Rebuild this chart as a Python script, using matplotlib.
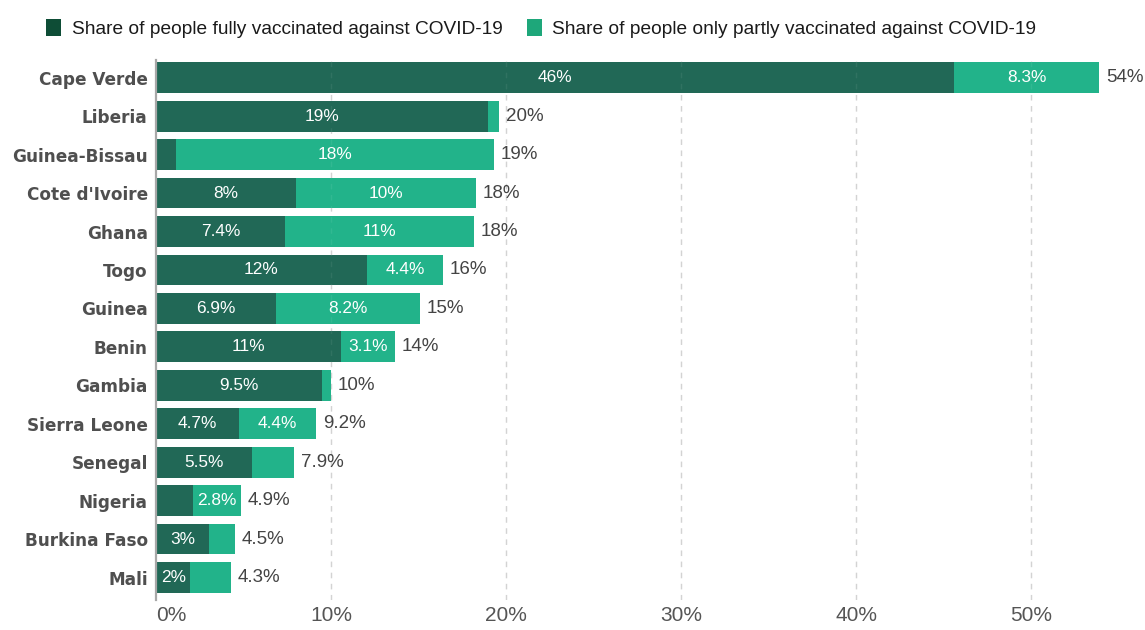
import matplotlib
matplotlib.use("Agg")
import matplotlib.pyplot as plt
from matplotlib.patches import Patch

# Share of population vaccinated against COVID-19 (%), West Africa
countries = ["Cape Verde", "Liberia", "Guinea-Bissau", "Cote d'Ivoire", "Ghana",
             "Togo", "Guinea", "Benin", "Gambia", "Sierra Leone", "Senegal",
             "Nigeria", "Burkina Faso", "Mali"]
fully = [45.6, 18.98, 1.14, 7.98, 7.36, 12.04, 6.88, 10.57, 9.47, 4.74, 5.46,
         2.10, 3.02, 1.97]
partly = [8.3, 0.62, 18.2, 10.29, 10.81, 4.36, 8.21, 3.07, 0.55, 4.43, 2.42,
          2.78, 1.50, 2.30]
x_ticks = [0, 10, 20, 30, 40, 50]

series_names = ["Share of people fully vaccinated against COVID-19",
                "Share of people only partly vaccinated against COVID-19"]

FULL_BAR = "#216856"
PART_BAR = "#22b38a"
FULL_KEY = "#0e4d36"
PART_KEY = "#1ea77a"

plt.rcParams["font.family"] = ["Liberation Sans", "DejaVu Sans"]

W, H = 1145, 630
fig = plt.figure(figsize=(W / 100, H / 100), dpi=100)
ax = fig.add_axes([156 / W, 1 - 600 / H, (1136 - 156) / W, (600 - 60.5) / H])

ypos = list(range(len(countries)))
totals = [f + p for f, p in zip(fully, partly)]

full_bars = ax.barh(ypos, fully, height=0.8, color=FULL_BAR, zorder=2)
part_bars = ax.barh(ypos, partly, left=fully, height=0.8, color=PART_BAR, zorder=2)

ax.set_xlim(0, 56)
ax.set_ylim(len(countries) - 0.415, -0.45)

# dashed vertical gridlines, plus a faint trace of them across the bars
ax.set_xticks(x_ticks)
ax.set_xticklabels([f"{t}%" for t in x_ticks])
ax.xaxis.grid(True, linestyle=(0, (4, 4)), color="#d0d0d0", linewidth=1)
ax.set_axisbelow(True)
ax.get_xgridlines()[0].set_visible(False)
for t in x_ticks[1:]:
    ax.axvline(t, linestyle=(0, (4, 4)), color="#ffffff", alpha=0.07,
               linewidth=1, zorder=3)

for side in ["top", "right", "bottom"]:
    ax.spines[side].set_visible(False)
ax.spines["left"].set_color("#a8a8a8")
ax.spines["left"].set_linewidth(1.6)
ax.spines["left"].set_zorder(4)

ax.tick_params(axis="x", length=0, pad=4, labelsize=15, labelcolor="#555555")
ax.get_xticklabels()[0].set_horizontalalignment("left")
ax.tick_params(axis="y", length=0, pad=6)
ax.set_yticks(ypos)
ax.set_yticklabels(countries, fontsize=12.2, fontweight="bold", color="#4f4f4f",
                   family="DejaVu Sans")


def fmt(v):
    return f"{v:.2g}%"


# value labels inside the segments
inner = []
for bars, vals in ((full_bars, fully), (part_bars, partly)):
    for rect, v in zip(bars, vals):
        cx = rect.get_x() + rect.get_width() / 2
        cy = rect.get_y() + rect.get_height() / 2
        t = ax.text(cx, cy, fmt(v), ha="center", va="center", color="white",
                    fontsize=12.4, zorder=5)
        inner.append((t, rect))

# total labels to the right of each bar
for yi, tot in zip(ypos, totals):
    ax.annotate(fmt(tot), (tot, yi), xytext=(4.8, 0), textcoords="offset points",
                ha="left", va="center", fontsize=13.5, color="#444444",
                annotation_clip=False)

# hide inner labels that don't fit inside their segment
fig.canvas.draw()
renderer = fig.canvas.get_renderer()
for t, rect in inner:
    tw = t.get_window_extent(renderer).width
    x0 = ax.transData.transform((rect.get_x(), 0))[0]
    x1 = ax.transData.transform((rect.get_x() + rect.get_width(), 0))[0]
    if tw + 8 > (x1 - x0):
        t.set_visible(False)

handles = [Patch(facecolor=FULL_KEY, edgecolor="none"),
           Patch(facecolor=PART_KEY, edgecolor="none")]
fig.legend(handles, series_names, loc="center left",
           bbox_to_anchor=(46 / W, 1 - 28.5 / H), ncol=2, frameon=False,
           fontsize=13.8, handlelength=0.8, handleheight=0.95,
           handletextpad=0.55, columnspacing=1.25, labelcolor="#1a1a1a",
           borderaxespad=0, borderpad=0)

fig.savefig("out.png", dpi=100, facecolor="white")
